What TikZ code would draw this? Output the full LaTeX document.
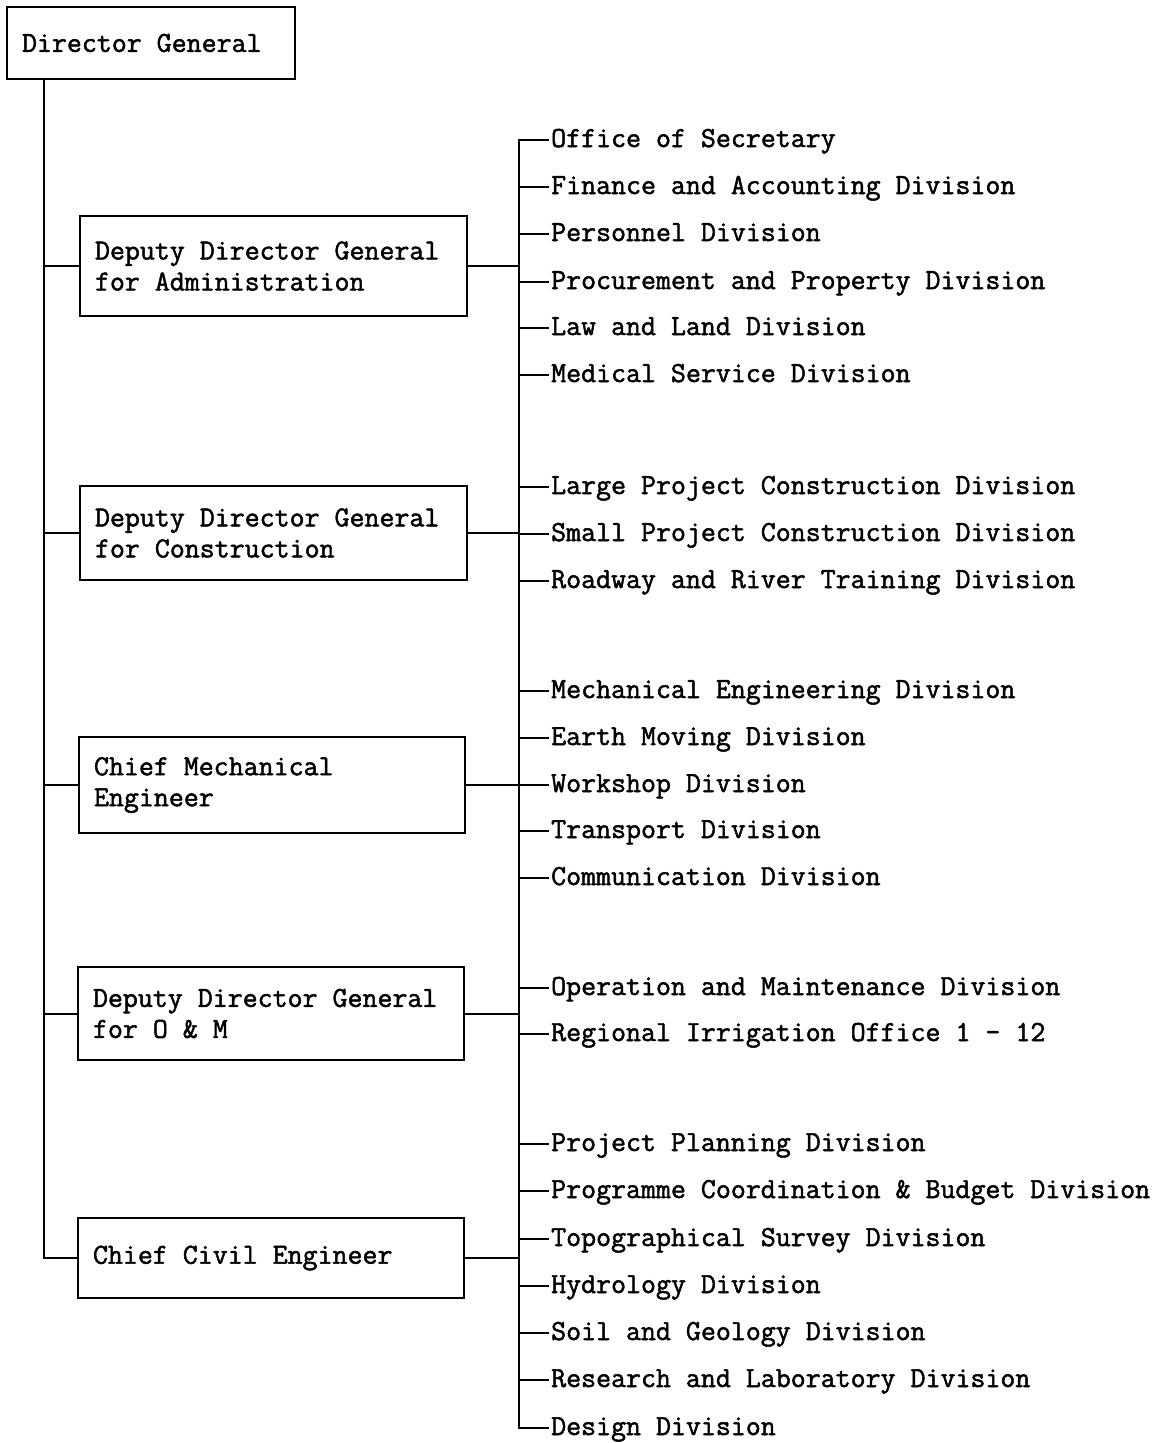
\documentclass[tikz,border=0pt]{standalone}
\usepackage{fontspec}
\newfontfamily\tw{Latin Modern Mono}[FakeBold=1.7]
\protected\def\twfont{\tw\fontsize{29.07}{31}\selectfont\spaceskip=15pt\relax}
\protected\def\fs{\spaceskip=15pt\xspaceskip=15pt\relax}
\begin{document}
\begin{tikzpicture}[x=1pt,y=-1pt,
  every node/.style={font=\twfont},
  line/.style={line width=2pt},
  box/.style={draw,line width=2pt,rectangle,align=flush left,inner xsep=15pt,inner ysep=0pt},
  item/.style={anchor=west,inner xsep=2pt,inner ysep=0pt,text height=17pt,text depth=3pt}]
\useasboundingbox (0,0) rectangle (1160,1443);
% top box
\node[box,minimum width=288pt,minimum height=72pt,text width=258pt] (dg) at (151,43) {\fs Director General};
% deputy boxes
\node[box,minimum width=387pt,minimum height=100pt,text width=357pt] (admin) at (273.5,266) {\fs Deputy Director General\\for Administration};
\node[box,minimum width=387pt,minimum height=94pt,text width=357pt] (cons) at (273.5,533) {\fs Deputy Director General\\for Construction};
\node[box,minimum width=386pt,minimum height=96pt,text width=356pt] (mech) at (272,785) {\fs Chief Mechanical\\Engineer};
\node[box,minimum width=386pt,minimum height=93pt,text width=356pt] (om) at (271,1013.5) {\fs Deputy Director General\\for O \& M};
\node[box,minimum width=386pt,minimum height=80pt,text width=356pt] (civil) at (271,1258) {\fs Chief Civil Engineer};
% trunk coordinates
\coordinate (t) at (44,0);
\coordinate (b) at (519,0);
% items
\foreach \n/\y/\txt in {
 i1/140/Office of Secretary,
 i2/187/Finance and Accounting Division,
 i3/234/Personnel Division,
 i4/282/Procurement and Property Division,
 i5/328/Law and Land Division,
 i6/375/Medical Service Division,
 i7/487/Large Project Construction Division,
 i8/534/Small Project Construction Division,
 i9/581/Roadway and River Training Division,
 i10/691/Mechanical Engineering Division,
 i11/738/Earth Moving Division,
 i12/785/Workshop Division,
 i13/831/Transport Division,
 i14/878/Communication Division,
 i15/988/Operation and Maintenance Division,
 i16/1034/Regional Irrigation Office 1 - 12,
 i17/1144/Project Planning Division,
 i18/1191/Programme Coordination \& Budget Division,
 i19/1239/Topographical Survey Division,
 i20/1286/Hydrology Division,
 i21/1333/Soil and Geology Division,
 i22/1380/Research and Laboratory Division,
 i23/1428/Design Division}
 {\node[item] (\n) at (549,\y) {\fs\txt};}
% left trunk
\draw[line] (dg.south -| t) -- (civil.west -| t) -- (civil.west);
\foreach \bx in {admin,cons,mech,om}
  \draw[line] (\bx.west -| t) -- (\bx.west);
% right bus
\draw[line] (i1.west) -- (i1.west -| b) -- (i23.west -| b) -- (i23.west);
\foreach \k in {2,...,22}
  \draw[line] (i\k.west -| b) -- (i\k.west);
\foreach \bx in {admin,cons,mech,om,civil}
  \draw[line] (\bx.east) -- (\bx.east -| b);
\end{tikzpicture}
\end{document}
